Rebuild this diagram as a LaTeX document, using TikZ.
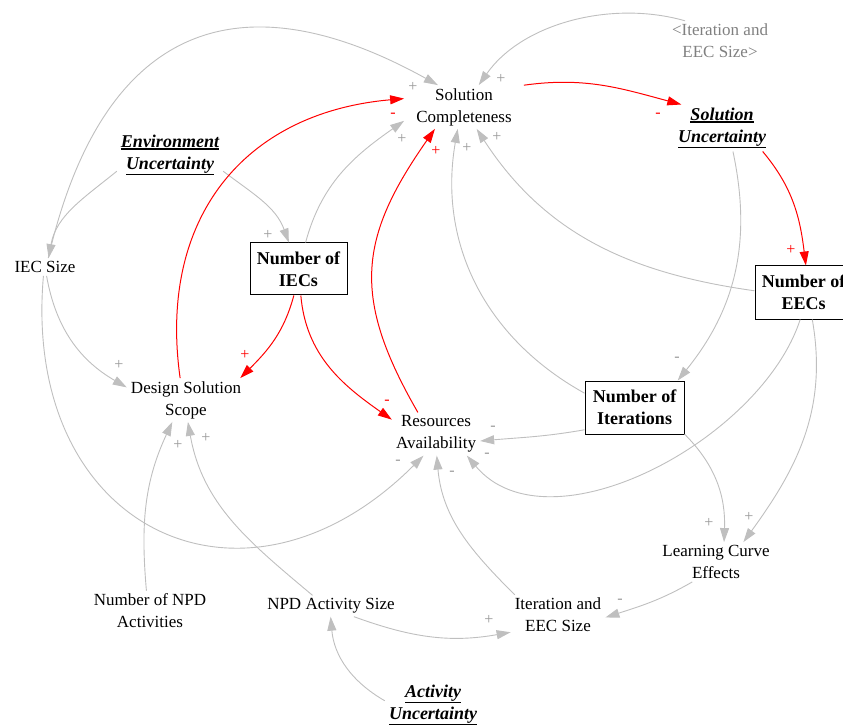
\documentclass[tikz,border=0pt]{standalone}
\usepackage{fontspec}
\setmainfont{Liberation Serif}
\usetikzlibrary{arrows.meta}
\newcommand\myul[1]{\setbox0\hbox{#1}\leavevmode\rlap{\rule[\dimexpr-\dp0-2.2pt\relax]{\wd0}{1.6pt}}\box0}
\begin{document}
\begin{tikzpicture}[x=1pt,y=1pt,
  lbl/.style={align=center, inner xsep=4pt, inner ysep=3pt, font=\fontsize{17}{22}\selectfont},
  blbl/.style={align=center, inner xsep=4pt, inner ysep=3pt, font=\fontsize{18}{22}\selectfont\bfseries\itshape},
  boxn/.style={draw=black, line width=1pt, align=center, inner sep=0pt, font=\fontsize{18}{22}\selectfont\bfseries},
  glink/.style={draw=black!25, line width=0.9pt, -{Triangle[length=14pt,width=9pt]}},
  rlink/.style={draw=red, line width=1pt, -{Triangle[length=14pt,width=9pt]}},
  gpol/.style={text=black!40, font=\fontsize{16}{16}\selectfont, inner sep=0pt},
  rpol/.style={text=red, font=\fontsize{16}{16}\selectfont, inner sep=0pt}]
\useasboundingbox (0,0) rectangle (843,-727);

% variables
\node[lbl, inner xsep=12pt] (sc) at (464,-107) {Solution\\Completeness};
\node[blbl] (su) at (722,-128) {\myul{Solution}\\\myul{Uncertainty}};
\node[blbl] (eu) at (170,-155) {\myul{Environment}\\\myul{Uncertainty}};
\node[lbl, text=black!50] (ies) at (720,-41) {<Iteration and\\EEC Size>};
\node[lbl] (iec) at (45,-267) {IEC Size};
\node[boxn, minimum width=97pt, minimum height=52pt] (niec) at (298.5,-269) {Number of\\IECs};
\node[boxn, minimum width=97pt, minimum height=53pt] (neec) at (803.5,-292.5) {Number of\\EECs};
\node[lbl] (dss) at (186,-400) {Design Solution\\Scope};
\node[lbl] (ra) at (436,-434) {Resources\\Availability};
\node[boxn, minimum width=99pt, minimum height=53pt] (nit) at (634.5,-407.5) {Number of\\Iterations};
\node[lbl] (lce) at (716,-562) {Learning Curve\\Effects};
\node[lbl] (nnpd) at (150,-611) {Number of NPD\\Activities};
\node[lbl] (nas) at (331,-606) {NPD Activity Size};
\node[lbl] (iess) at (558,-615) {Iteration and\\EEC Size};
\node[blbl] (au) at (433,-705) {\myul{Activity}\\\myul{Uncertainty}};

% links
\draw[glink] (iec.70) to[out=77,in=151,looseness=1.4] (sc.140);
\draw[glink] (eu.197) to[out=219,in=80] (iec.68);
\draw[glink] (eu.-17) to[out=-37,in=110] (niec.110);
\draw[glink] (niec.75) to[out=75,in=215] (sc.193);
\draw[rlink] (sc.20) to[out=8,in=165] (su.150);
\draw[rlink] (su.-30) to[out=-50,in=97] (neec.85);
\draw[glink] (su.-65) to[out=-78,in=51] (nit.32);
\draw[glink] (ies.150) to[out=164,in=55,looseness=0.9] (sc.56);
\draw[rlink] (niec.-100) to[out=-105,in=45] (dss.22);
\draw[rlink] (niec.-85) to[out=-85,in=145] (ra.162);
\draw[rlink] (dss.105) to[out=98,in=185,looseness=1.15] (sc.172);
\draw[rlink] (ra.130) to[out=120,in=235,looseness=1.2] (sc.-143);
\draw[glink] (iec.-80) to[out=-80,in=150] (dss.168);
\draw[glink] (iec.-100) to[out=-95,in=225,looseness=1.55] (ra.-120);
\draw[glink] (nnpd.100) to[out=95,in=245] (dss.-122);
\draw[glink] (nas.150) to[out=140,in=280] (dss.-85);
\draw[glink] (nas.-25) to[out=-20,in=190] (iess.-160);
\draw[glink] (au.175) to[out=150,in=275] (nas.-92);
\draw[glink] (iess.155) to[out=135,in=275] (ra.-88);
\draw[glink] (nit.-156) to[out=190,in=5] (ra.-9);
\draw[glink] (neec.-97) to[out=-108,in=-50,looseness=0.9] (ra.-35);
\draw[glink] (nit.-28) to[out=-45,in=88] (lce.68);
\draw[glink] (neec.-72) to[out=-80,in=54] (lce.36);
\draw[glink] (lce.-140) to[out=-150,in=18] (iess.-3);
\draw[glink] (nit.164) to[out=151,in=260] (sc.-106);
\draw[glink] (neec.178) to[out=172,in=-57] (sc.-60);

% polarities
\node[gpol] (p1) at (413,-87) {+};
\node[gpol] (p2) at (501,-79) {+};
\node[rpol] (p3) at (393,-115) {-};
\node[gpol] (p4) at (402,-139) {+};
\node[rpol] (p5) at (436,-151) {+};
\node[gpol] (p6) at (467,-148) {+};
\node[gpol] (p7) at (497,-137) {+};
\node[rpol] (p8) at (658,-115) {-};
\node[rpol] (p9) at (791,-250) {+};
\node[gpol] (p10) at (677,-359) {-};
\node[gpol] (p11) at (268,-235) {+};
\node[rpol] (p12) at (245,-355) {+};
\node[rpol] (p13) at (387,-402) {-};
\node[gpol] (p14) at (119,-365) {+};
\node[gpol] (p15) at (398,-462) {-};
\node[gpol] (p16) at (178,-445) {+};
\node[gpol] (p17) at (206,-438) {+};
\node[gpol] (p18) at (489,-620) {+};
\node[gpol] (p19) at (452,-473) {-};
\node[gpol] (p20) at (493,-428) {-};
\node[gpol] (p21) at (487,-455) {-};
\node[gpol] (p22) at (709,-523) {+};
\node[gpol] (p23) at (749,-517) {+};
\node[gpol] (p24) at (620,-601) {-};
\end{tikzpicture}
\end{document}
